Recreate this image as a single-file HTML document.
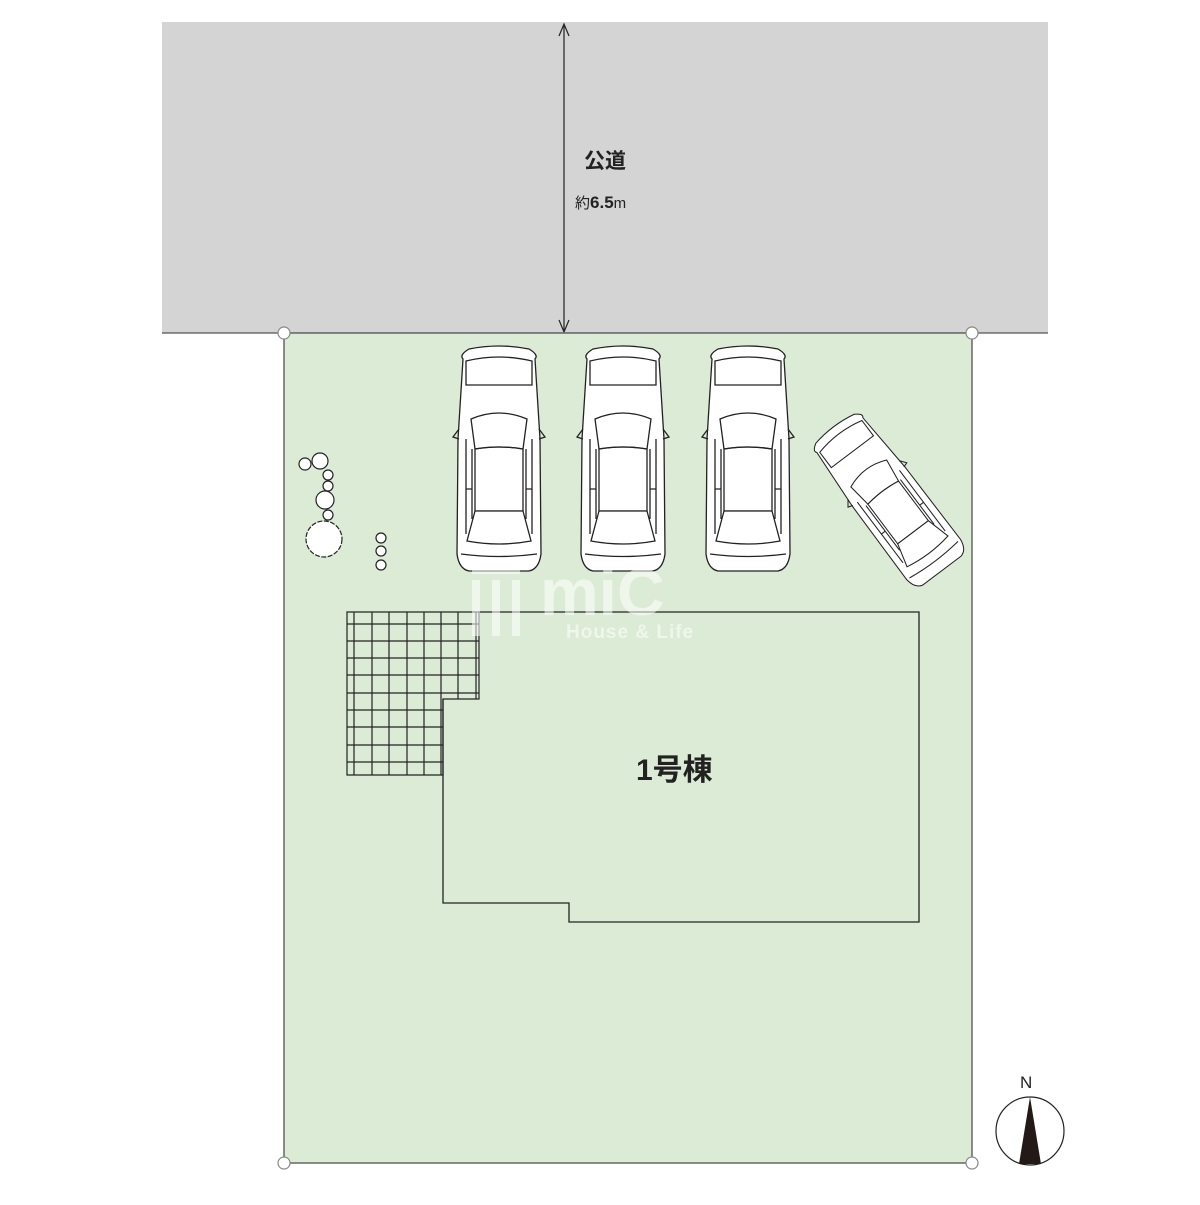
<!DOCTYPE html>
<html><head><meta charset="utf-8"><style>html,body{margin:0;background:#fff}</style></head><body>
<svg width="1200" height="1200" viewBox="0 0 1200 1200" xmlns="http://www.w3.org/2000/svg" font-family="Liberation Sans, Noto Sans CJK JP, sans-serif">
<defs>
<g id="car" fill="#fff" stroke="#222" stroke-width="1.3">
<path d="M-36,-100 Q-40,-104 -30,-110 Q0,-116 30,-110 Q40,-104 36,-100 L41,-20 L42,95 Q40,110 30,112 L-30,112 Q-40,110 -42,95 L-41,-20 Z"/>
<path d="M-33,-98 Q0,-106 33,-98 L33,-74 L-33,-74Z" fill="none"/>
<path d="M-28,-40 Q0,-52 28,-40 L24,-10 Q0,-14 -24,-10 Z"/>
<path d="M-24,-10 Q0,-14 24,-10 L24,52 L-24,52 Z" fill="none"/>
<path d="M-24,52 L24,52 L32,82 Q0,88 -32,82 Z"/>
<path d="M-33,-20 L-33,75 M-27,-10 L-27,60 M33,-20 L33,75 M27,-10 L27,60 M-33,30 L-27,30 M33,30 L27,30" fill="none"/>
<path d="M-40,-30 L-46,-22 L-40,-20 M40,-30 L46,-22 L40,-20" fill="none"/>
<path d="M-38,95 Q0,100 38,95" fill="none"/>
</g>
</defs>
<rect x="162" y="22" width="886" height="311" fill="#d4d4d4"/>
<line x1="162" y1="333" x2="1048" y2="333" stroke="#555" stroke-width="1.2"/>
<line x1="564" y1="26" x2="564" y2="330" stroke="#222" stroke-width="1.2"/>
<path d="M559,36 L564,24 L569,36 M559,320 L564,332 L569,320" fill="none" stroke="#222" stroke-width="1.2"/>
<text x="584" y="168" font-size="21" font-weight="bold" fill="#222">公道</text>
<text x="575" y="208" font-size="15" fill="#222">約<tspan font-size="17" font-weight="bold">6.5</tspan>m</text>
<rect x="284" y="333" width="688" height="830" fill="#dcebd6" stroke="#666" stroke-width="1.5"/>
<g fill="#fff" stroke="#888" stroke-width="1.2">
<circle cx="284" cy="333" r="6"/><circle cx="972" cy="333" r="6"/>
<circle cx="284" cy="1163" r="6"/><circle cx="972" cy="1163" r="6"/>
</g>
<use href="#car" transform="translate(499,459)"/>
<use href="#car" transform="translate(623,459)"/>
<use href="#car" transform="translate(748,459)"/>
<use href="#car" transform="translate(888,499) rotate(-37) scale(0.8)"/>
<g fill="#fff" stroke="#222" stroke-width="1.2">
<circle cx="305" cy="464" r="6"/><circle cx="320" cy="461" r="8"/>
<circle cx="328" cy="475" r="5"/><circle cx="328" cy="486" r="5"/>
<circle cx="325" cy="500" r="9"/><circle cx="328" cy="515" r="5"/>
<circle cx="324" cy="539" r="18" stroke-dasharray="5 1.5"/>
<circle cx="381" cy="538" r="5"/><circle cx="381" cy="551" r="5"/><circle cx="381" cy="565" r="5"/>
</g>
<g stroke="#222" stroke-width="1.2" fill="none">
<path d="M347,612 L479,612 L479,699 L443,699 L443,775 L347,775 Z"/>
<path d="M354,612V775 M372,612V775 M389,612V775 M407,612V775 M424,612V775 M441,612V775 M458,612V699 M476,612V699"/>
<path d="M347,624H479 M347,641H479 M347,658H479 M347,675H479 M347,693H479 M347,710H443 M347,727H443 M347,745H443 M347,762H443"/>
<path d="M479,612 L919,612 L919,922 L569,922 L569,903 L443,903 L443,699" stroke-width="1.3"/>
</g>
<text x="636" y="780" font-size="30" font-weight="bold" fill="#222">1号棟</text>
<g fill="#fff" opacity="0.55">
<rect x="472" y="580" width="8" height="56"/><rect x="492" y="580" width="8" height="56"/><rect x="512" y="580" width="8" height="56"/>
<rect x="472" y="566" width="48" height="8"/>
<text x="540" y="615" font-size="66" font-weight="bold">miC</text>
<text x="566" y="638" font-size="19" font-weight="bold" letter-spacing="1">House &amp; Life</text>
</g>
<text x="1020" y="1088" font-size="17" fill="#222">N</text>
<circle cx="1030" cy="1131" r="34" fill="#fff" stroke="#222" stroke-width="1.2"/>
<path d="M1030,1097 L1041,1164 L1019,1164 Z" fill="#231a18"/>
</svg>
</body></html>
